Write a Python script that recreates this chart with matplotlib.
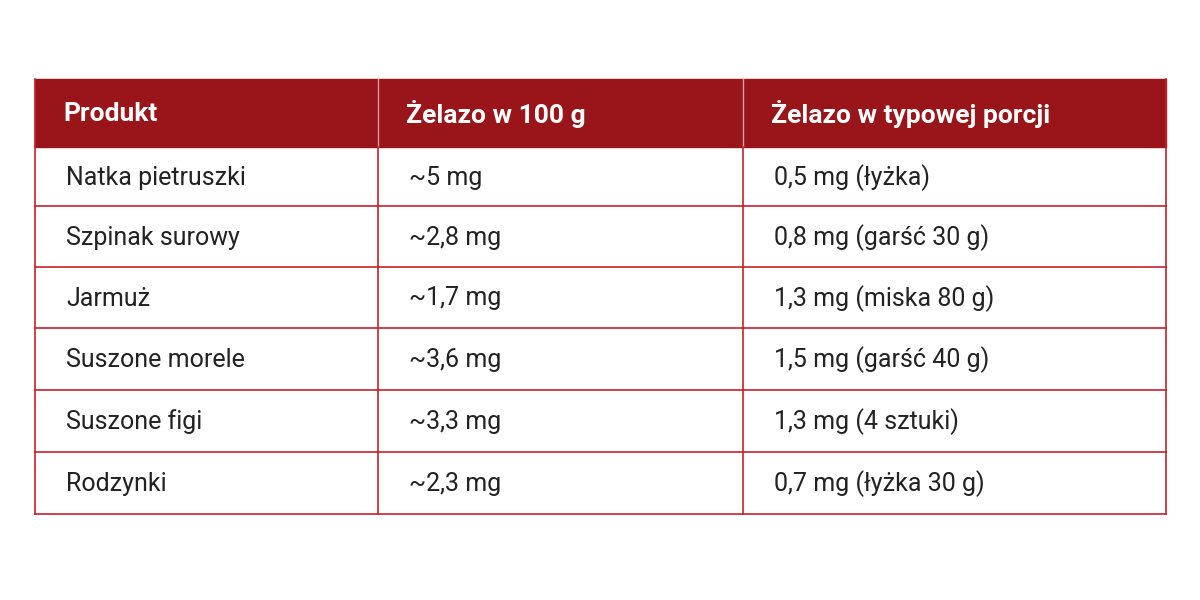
import matplotlib
matplotlib.use("Agg")
import matplotlib.pyplot as plt
from matplotlib.patches import Rectangle

headers = ["Produkt", "Żelazo w 100 g", "Żelazo w typowej porcji"]
products = ["Natka pietruszki", "Szpinak surowy", "Jarmuż", "Suszone morele", "Suszone figi", "Rodzynki"]
iron_100g = ["~5 mg", "~2,8 mg", "~1,7 mg", "~3,6 mg", "~3,3 mg", "~2,3 mg"]
iron_portion = ["0,5 mg (łyżka)", "0,8 mg (garść 30 g)", "1,3 mg (miska 80 g)",
                "1,5 mg (garść 40 g)", "1,3 mg (4 sztuki)", "0,7 mg (łyżka 30 g)"]

plt.rcParams['font.family'] = ['Roboto', 'DejaVu Sans']
fig = plt.figure(figsize=(12, 6), dpi=100)
ax = fig.add_axes([0, 0, 1, 1])
ax.set_xlim(0, 1200); ax.set_ylim(600, 0); ax.axis('off')
fig.patch.set_facecolor('white')

head_col = '#9A1519'
line_col = '#C8202A'
text_col = '#222222'
xs = [35, 378, 743, 1166]
header_top, header_bot = 79, 147
row_edges = [147, 206, 267, 328, 390, 452, 514]

ax.add_patch(Rectangle((xs[0], header_top), xs[-1]-xs[0], header_bot-header_top, color=head_col, zorder=1))
for i, h in enumerate(headers):
    ax.text(xs[i] + 28, (header_top+header_bot)/2 + 1, h, color='white', fontsize=19,
            fontweight='bold', va='center', ha='left', zorder=3)
for x in xs[1:-1]:
    ax.plot([x, x], [header_top, header_bot], color='#D9A0A0', lw=1, zorder=2)

cols = [products, iron_100g, iron_portion]
for r in range(len(products)):
    yc = (row_edges[r] + row_edges[r+1]) / 2
    for c in range(3):
        ax.text(xs[c] + 31, yc + 1, cols[c][r], color=text_col, fontsize=18,
                va='center', ha='left', zorder=3)
for y in row_edges[1:]:
    ax.plot([xs[0], xs[-1]], [y, y], color=line_col, lw=1.2, zorder=2)
for x in xs:
    ax.plot([x, x], [header_bot, row_edges[-1]], color=line_col, lw=1.2, zorder=2)
ax.plot([xs[0], xs[0]], [header_top, header_bot], color=line_col, lw=1.2, zorder=2)
ax.plot([xs[-1], xs[-1]], [header_top, header_bot], color=line_col, lw=1.2, zorder=2)

fig.savefig('out.png', dpi=100, facecolor='white')
